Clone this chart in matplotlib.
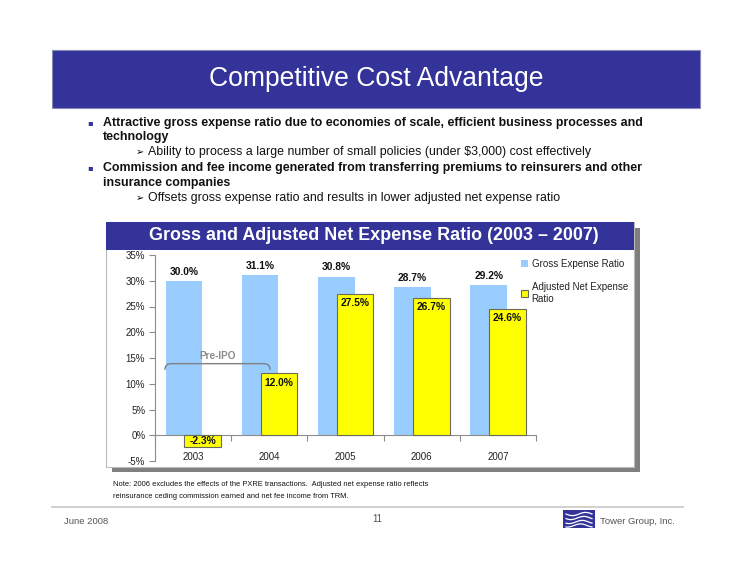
import numpy as np
import matplotlib
matplotlib.use("Agg")
import matplotlib.pyplot as plt
from matplotlib.patches import Rectangle, PathPatch
from matplotlib.path import Path
from matplotlib.lines import Line2D

plt.rcParams['font.family'] = ['Liberation Sans', 'DejaVu Sans']

# ---- data ----
years = ['2003', '2004', '2005', '2006', '2007']
gross_ratio = [30.0, 31.1, 30.8, 28.7, 29.2]
adj_net_ratio = [-2.3, 12.0, 27.5, 26.7, 24.6]
y_ticks = [-5, 0, 5, 10, 15, 20, 25, 30, 35]

W, H = 750, 580
fig = plt.figure(figsize=(W / 100, H / 100), dpi=100)
fig.patch.set_facecolor('white')


def fx(x):
    return x / W


def fy(y):
    return 1 - y / H


NAVY = '#333399'

# ---- top banner ----
fig.patches.append(Rectangle((fx(52), fy(108)), fx(700 - 52), (108 - 50) / H,
                             transform=fig.transFigure, facecolor=NAVY,
                             edgecolor='#8888bb', lw=0.8, zorder=0))
fig.text(fx(376), fy(79), 'Competitive Cost Advantage', color='white',
         fontsize=19.1, ha='center', va='center')

# ---- bullets ----
bfs = 8.9
fig.text(fx(90), fy(123), '\u25aa', color=NAVY, fontsize=6, ha='center', va='center', family=['DejaVu Sans'])
fig.text(fx(103), fy(123), 'Attractive gross expense ratio due to economies of scale, efficient business processes and',
         fontsize=bfs, fontweight='bold', va='center', color='#111111')
fig.text(fx(103), fy(137), 'technology', fontsize=bfs, fontweight='bold', va='center', color='#111111')
fig.text(fx(140), fy(152), '\u27a2', fontsize=7, ha='center', va='center', family=['DejaVu Sans'])
fig.text(fx(148), fy(152), 'Ability to process a large number of small policies (under $3,000) cost effectively',
         fontsize=bfs, va='center', color='#111111')
fig.text(fx(90), fy(168), '\u25aa', color=NAVY, fontsize=6, ha='center', va='center', family=['DejaVu Sans'])
fig.text(fx(103), fy(168), 'Commission and fee income generated from transferring premiums to reinsurers and other',
         fontsize=bfs, fontweight='bold', va='center', color='#111111')
fig.text(fx(103), fy(183), 'insurance companies', fontsize=bfs, fontweight='bold', va='center', color='#111111')
fig.text(fx(140), fy(198), '\u27a2', fontsize=7, ha='center', va='center', family=['DejaVu Sans'])
fig.text(fx(148), fy(198), 'Offsets gross expense ratio and results in lower adjusted net expense ratio',
         fontsize=bfs, va='center', color='#111111')

# ---- chart panel ----
fig.patches.append(Rectangle((fx(112), fy(472)), fx(640 - 112), (472 - 228) / H,
                             transform=fig.transFigure, facecolor='#7f7f7f',
                             edgecolor='none', zorder=0))
fig.patches.append(Rectangle((fx(106), fy(467)), fx(634 - 106), (467 - 222) / H,
                             transform=fig.transFigure, facecolor='white',
                             edgecolor='#bbbbbb', lw=0.8, zorder=0))
fig.patches.append(Rectangle((fx(106), fy(250)), fx(634 - 106), (250 - 222) / H,
                             transform=fig.transFigure, facecolor=NAVY,
                             edgecolor='none', zorder=0))
fig.text(fx(374), fy(236), 'Gross and Adjusted Net Expense Ratio (2003 \u2013 2007)',
         color='white', fontsize=12.9, fontweight='bold', ha='center', va='center')

# ---- axes ----
ax = fig.add_axes([fx(155), fy(461), fx(536 - 155), (461 - 255) / H])
ax.set_zorder(5)
ax.set_facecolor('none')
x = np.arange(len(years))
bw = 0.48
b1 = ax.bar(x - 0.12, gross_ratio, bw, color='#99ccff', edgecolor='none',
            label='Gross Expense Ratio', zorder=2)
b2 = ax.bar(x + 0.125, adj_net_ratio, bw, color='#ffff00', edgecolor='#6b6b5a', lw=0.8,
            label='Adjusted Net Expense\nRatio', zorder=3)

for xi, v in zip(x - 0.12, gross_ratio):
    ax.annotate(f'{v:.1f}%', (xi, v), xytext=(0, 3), textcoords='offset points',
                ha='center', va='bottom', fontsize=7.4, fontweight='bold', color='#111111')
for xi, v in zip(x + 0.125, adj_net_ratio):
    if v < 0:
        ax.annotate(f'{v:.1f}%', (xi, v / 2), ha='center', va='center',
                    fontsize=7.4, fontweight='bold', color='#111111', zorder=4)
    else:
        ax.annotate(f'{v:.1f}%', (xi, v), xytext=(0, -7), textcoords='offset points',
                    ha='center', va='center', fontsize=7.4, fontweight='bold',
                    color='#111111', zorder=4)

ax.set_xlim(-0.5, 4.5)
ax.set_ylim(-5, 35)
ax.set_yticks(y_ticks)
ax.set_yticklabels([f'{t}%' for t in y_ticks])
ax.set_xticks(x)
ax.set_xticklabels(years)
ax.set_xticks(np.arange(-0.5, 5.0, 1.0), minor=True)
ax.spines['bottom'].set_position(('data', 0))
ax.spines['top'].set_visible(False)
ax.spines['right'].set_visible(False)
for s in ('left', 'bottom'):
    ax.spines[s].set_color('#8c8c8c')
    ax.spines[s].set_linewidth(0.8)
ax.tick_params(axis='y', length=4, width=0.8, color='#8c8c8c', labelsize=7,
               labelcolor='#222222', pad=3)
ax.tick_params(axis='x', which='major', length=0, labelsize=7, labelcolor='#222222', pad=12)
ax.tick_params(axis='x', which='minor', length=4, width=0.8, color='#8c8c8c')

# Pre-IPO bracket
x0, x1, yt, yb, r = -0.37, 1.01, 13.9, 12.7, 0.08
verts = [(x0, yb), (x0, yt), (x0 + r, yt), (x1 - r, yt), (x1, yt), (x1, yb)]
codes = [Path.MOVETO, Path.CURVE3, Path.CURVE3, Path.LINETO, Path.CURVE3, Path.CURVE3]
ax.add_patch(PathPatch(Path(verts, codes), facecolor='none', edgecolor='#808080',
                       lw=1.0, zorder=5))
ax.text(0.32, 15.4, 'Pre-IPO', ha='center', va='center', fontsize=7.2,
        fontweight='bold', color='#8c8c8c', zorder=5)

leg = ax.legend(handles=[b1, b2], loc='upper left', bbox_to_anchor=(fx(517), fy(255)),
                bbox_transform=fig.transFigure, frameon=False, fontsize=7,
                handlelength=0.75, handleheight=0.75, handletextpad=0.35,
                labelspacing=1.35, borderaxespad=0)
for t in leg.get_texts():
    t.set_color('#222222')

# ---- note ----
fig.text(fx(113), fy(485), 'Note: 2006 excludes the effects of the PXRE transactions.  Adjusted net expense ratio reflects',
         fontsize=5.4, va='center', color='#111111')
fig.text(fx(113), fy(496), 'reinsurance ceding commission earned and net fee income from TRM.',
         fontsize=5.4, va='center', color='#111111')

# ---- footer ----
fig.add_artist(Line2D([fx(52), fx(683)], [fy(507), fy(507)], transform=fig.transFigure,
                      color='#c8c8c8', lw=1.2))
fig.text(fx(64), fy(521), 'June 2008', fontsize=6.8, va='center', color='#555555')
fig.text(fx(377), fy(519), '11', fontsize=7, va='center', ha='center', color='#555555')
fig.text(fx(600), fy(521), 'Tower Group, Inc.', fontsize=6.8, va='center', color='#555555')
fig.patches.append(Rectangle((fx(563), fy(528)), fx(595 - 563), (528 - 510) / H,
                             transform=fig.transFigure, facecolor=NAVY, edgecolor='none'))
wx = np.linspace(566, 592, 30)
for k, base in enumerate([514, 518, 522, 525.5]):
    wy = base + 1.6 * np.sin((wx - 566) / 26 * 2 * np.pi + k * 0.4)
    fig.add_artist(Line2D(fx(wx), fy(wy), transform=fig.transFigure, color='white', lw=0.9))

fig.savefig('out.png', dpi=100, facecolor='white')
